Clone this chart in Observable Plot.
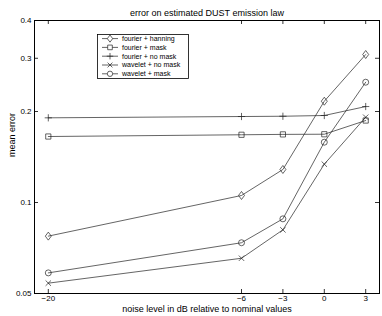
<!DOCTYPE html>
<html>
<head>
<meta charset="utf-8">
<script src="https://cdn.jsdelivr.net/npm/d3@7"></script>
<script src="https://cdn.jsdelivr.net/npm/@observablehq/plot@0.6"></script>
<style>
  html, body { margin: 0; padding: 0; background: white; }
  #chart svg { display: block; }
</style>
</head>
<body>
<div id="chart"></div>
<script>
// ---- data ----
const noiseLevels = [-20, -6, -3, 0, 3];
const seriesNames = ["fourier + hanning", "fourier + mask", "fourier + no mask", "wavelet + no mask", "wavelet + mask"];
const fourierHanning = [0.0774, 0.1055, 0.1286, 0.2163, 0.3087];
const fourierMask    = [0.1653, 0.1675, 0.1680, 0.1682, 0.1867];
const fourierNoMask  = [0.1906, 0.1925, 0.1929, 0.1940, 0.2077];
const waveletNoMask  = [0.0541, 0.0654, 0.0812, 0.1339, 0.1915];
const waveletMask    = [0.0585, 0.0736, 0.0883, 0.1583, 0.2500];
const xTicks = [-20, -6, -3, 0, 3];
const yTicks = [0.05, 0.1, 0.2, 0.3, 0.4];
const yTickLabels = ["0.05", "0.1", "0.2", "0.3", "0.4"];
const title = "error on estimated DUST emission law";
const xLabel = "noise level in dB relative to nominal values";
const yLabel = "mean error";

const seriesValues = [fourierHanning, fourierMask, fourierNoMask, waveletNoMask, waveletMask];
const rows = [];
seriesNames.forEach((name, i) => {
  noiseLevels.forEach((x, j) => rows.push({series: name, x, y: seriesValues[i][j]}));
});

// MATLAB-like open marker shapes (size = pi*r^2, reference r = 3)
const REF = Math.PI * 9;
const sc = size => Math.sqrt(size / REF);
const mDiamond = {draw(c, size) { const s = sc(size), h = 4 * s, w = 3 * s; c.moveTo(0, -h); c.lineTo(w, 0); c.lineTo(0, h); c.lineTo(-w, 0); c.closePath(); }};
const mSquare  = {draw(c, size) { const s = 2.6 * sc(size); c.moveTo(-s, -s); c.lineTo(s, -s); c.lineTo(s, s); c.lineTo(-s, s); c.closePath(); }};
const mPlus    = {draw(c, size) { const s = 3.6 * sc(size); c.moveTo(-s, 0); c.lineTo(s, 0); c.moveTo(0, -s); c.lineTo(0, s); }};
const mTimes   = {draw(c, size) { const s = 2.7 * sc(size); c.moveTo(-s, -s); c.lineTo(s, s); c.moveTo(s, -s); c.lineTo(-s, s); }};
const mCircle  = {draw(c, size) { const r = 3 * sc(size); c.moveTo(r, 0); c.arc(0, 0, r, 0, 2 * Math.PI); c.closePath(); }};
const symbols = [mDiamond, mSquare, mPlus, mTimes, mCircle];

const W = 382, H = 316;
const mL = 34, mR = 3, mT = 20, mB = 23;
const fw = W - mL - mR, fh = H - mT - mB;
const tick = 4;
const minus = d => d < 0 ? "\u2212" + (-d) : String(d);
const FONT = "'Liberation Sans', Arial, sans-serif";

const chart = Plot.plot({
  width: W, height: H,
  marginLeft: mL, marginRight: mR, marginTop: mT, marginBottom: mB,
  style: {fontFamily: FONT, fontSize: "8px", background: "white", color: "black"},
  x: {domain: [-21, 4]},
  y: {type: "log", domain: [0.05, 0.4]},
  symbol: {domain: seriesNames, range: symbols},
  marks: [
    Plot.axisX({ticks: xTicks, tickSize: 0, tickPadding: 2, tickFormat: minus, label: null}),
    Plot.axisY({ticks: yTicks, tickSize: 0, tickPadding: 3, tickFormat: d => yTickLabels[yTicks.indexOf(d)], label: null}),
    Plot.tickX(xTicks, {x: d => d, insetTop: fh - tick, stroke: "black", strokeWidth: 0.8}),
    Plot.tickX(xTicks, {x: d => d, insetBottom: fh - tick, stroke: "black", strokeWidth: 0.8}),
    Plot.tickY(yTicks, {y: d => d, insetRight: fw - tick, stroke: "black", strokeWidth: 0.8}),
    Plot.tickY(yTicks, {y: d => d, insetLeft: fw - tick, stroke: "black", strokeWidth: 0.8}),
    Plot.line(rows, {x: "x", y: "y", z: "series", stroke: "#222", strokeWidth: 0.7}),
    Plot.dot(rows, {x: "x", y: "y", symbol: "series", r: 3, stroke: "#222", strokeWidth: 0.7, fill: "none"}),
    Plot.frame({stroke: "black", strokeWidth: 1}),
    Plot.text([title], {frameAnchor: "top", dy: -11, fontSize: 9}),
    Plot.text([xLabel], {frameAnchor: "bottom", dy: 18, fontSize: 9}),
    Plot.text([yLabel], {frameAnchor: "left", dx: -22, rotate: -90, fontSize: 9})
  ]
});

// legend box (drawn inside the axes, MATLAB style)
const svg = d3.select(chart);
const lg = svg.append("g").attr("font-family", FONT).attr("font-size", 7).attr("text-anchor", "start");
const lx = 97, ly = 34, lw = 91, lh = 44;
lg.append("rect").attr("x", lx + 0.5).attr("y", ly + 0.5).attr("width", lw).attr("height", lh)
  .attr("fill", "white").attr("stroke", "black").attr("stroke-width", 0.8);
seriesNames.forEach((name, i) => {
  const cy = ly + 4.6 + 8.8 * i;
  lg.append("line").attr("x1", lx + 5).attr("x2", lx + 21).attr("y1", cy).attr("y2", cy)
    .attr("stroke", "#222").attr("stroke-width", 0.7);
  lg.append("path").attr("transform", `translate(${lx + 13},${cy})`)
    .attr("d", d3.symbol(symbols[i], REF * 0.8)())
    .attr("fill", "white").attr("stroke", "#222").attr("stroke-width", 0.7);
  lg.append("text").attr("x", lx + 25).attr("y", cy).attr("dy", "0.35em").attr("fill", "black").text(name);
});

document.getElementById("chart").appendChild(chart);
</script>
</body>
</html>
